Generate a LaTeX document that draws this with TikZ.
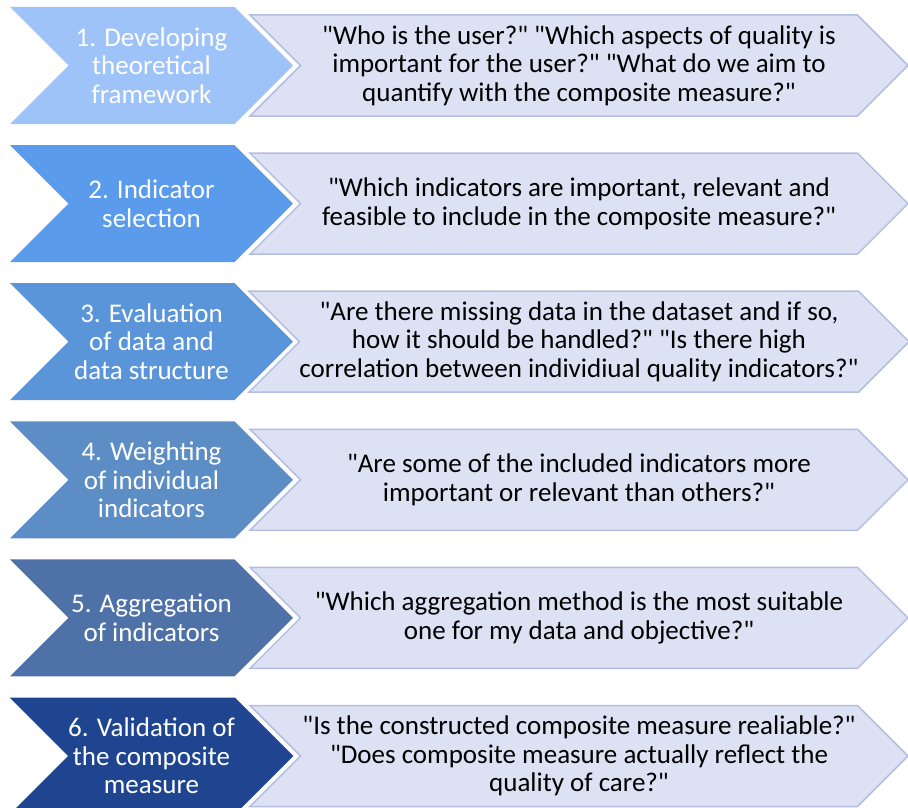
\documentclass[tikz,border=0pt]{standalone}
\usepackage{fontspec}
\setmainfont{Carlito}[Ligatures=TeXOff]
\usetikzlibrary{positioning,shapes.symbols}

\definecolor{stageone}{HTML}{9DC3F9}
\definecolor{stagetwo}{HTML}{5A9BEB}
\definecolor{stagethree}{HTML}{5A95DA}
\definecolor{stagefour}{HTML}{5C8DC5}
\definecolor{stagefive}{HTML}{4E72A8}
\definecolor{stagesix}{HTML}{1F4591}
\definecolor{qfill}{HTML}{DCE2F3}
\definecolor{qborder}{HTML}{B4BEE0}

\begin{document}
\begin{tikzpicture}[
    x=1pt, y=-1pt,
    node distance=20.7pt,
    font=\fontsize{27}{28.5}\selectfont,
    stage/.style={
		signal,
		signal from=west,
		signal to=east,
		signal pointer angle=90,
		minimum width=283pt,
		minimum height=117pt,
		inner sep=0pt,
		align=center,
		text=white
	},
	question/.style={
		signal,
		signal from=west,
		signal to=east,
		signal pointer angle=90,
		minimum width=658pt,
		minimum height=101pt,
		inner sep=0pt,
		align=center,
		draw=qborder,
		line width=1.5pt,
		fill=qfill,
		xshift=427.5pt
	}
  ]
    \useasboundingbox (0,0) rectangle (908,808);

    % the six stages on the left
  \node [stage, fill=stageone] (stage1) at (151.5,65.5)
 {1. Developing\\theoretical\\framework};
  \node [stage, fill=stagetwo, below=of stage1] (stage2)
 {2. Indicator\\selection};
  \node [stage, fill=stagethree, below=of stage2] (stage3)
 {3. Evaluation\\of data and\\data structure};
  \node [stage, fill=stagefour, below=of stage3] (stage4)
 {4. Weighting\\of individual\\indicators};
  \node [stage, fill=stagefive, below=of stage4] (stage5)
 {5. Aggregation\\of indicators};
  \node [stage, fill=stagesix, below=of stage5] (stage6)
 {6. Validation of\\the composite\\measure};

    % the questions asked at each stage
  \node [question] (question1) at (stage1.center)
 {"Who is the user?" "Which aspects of quality is\\important for the user?" "What do we aim to\\quantify with the composite measure?"};
  \node [question] (question2) at (stage2.center)
 {"Which indicators are important, relevant and\\feasible to include in the composite measure?"};
  \node [question] (question3) at (stage3.center)
 {"Are there missing data in the dataset and if so,\\how it should be handled?" "Is there high\\correlation between individiual quality indicators?"};
  \node [question] (question4) at (stage4.center)
 {"Are some of the included indicators more\\important or relevant than others?"};
  \node [question] (question5) at (stage5.center)
 {"Which aggregation method is the most suitable\\one for my data and objective?"};
  \node [question] (question6) at (stage6.center)
 {"Is the constructed composite measure realiable?"\\"Does composite measure actually reflect the\\quality of care?"};

\end{tikzpicture}
\end{document}
